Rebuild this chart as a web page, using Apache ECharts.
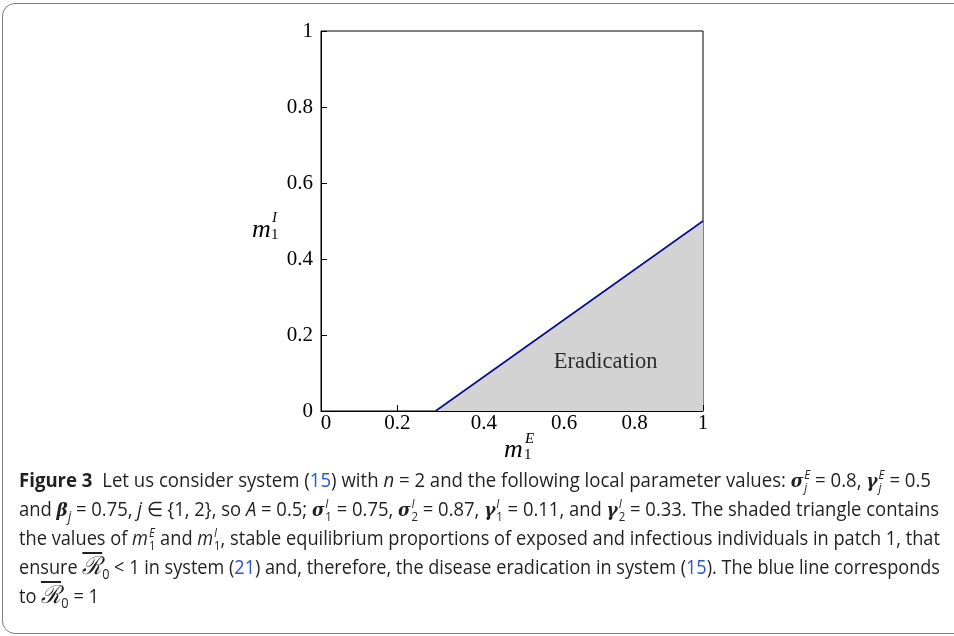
<!DOCTYPE html>
<html>
<head>
<meta charset="utf-8">
<script src="https://cdn.jsdelivr.net/npm/echarts@6/dist/echarts.min.js"></script>
<style>
  html, body { margin: 0; padding: 0; width: 954px; height: 636px; overflow: hidden; background: #fff; }
  #frame { position: absolute; left: 2px; top: 3px; width: 990px; height: 631px; border: 1.5px solid #7d7d7d; border-radius: 13px; box-sizing: border-box; }
  #chart { position: absolute; left: 0; top: 0; width: 954px; height: 470px; }
  #caption { position: absolute; left: 19px; top: 465px; font-family: "Open Sans", sans-serif; font-size: 20px; color: #231f20; }
  .ln { white-space: nowrap; width: max-content; height: 29px; line-height: 29px; transform-origin: 0 50%; }
  .ln a { color: #2b55c9; text-decoration: none; }
  .ss { display: inline-flex; flex-direction: column; font-size: 0.62em; line-height: 1; vertical-align: 0.62em; margin-left: 1px; }
  .bi { font-weight: bold; font-style: italic; font-family: "DejaVu Serif", serif; font-size: 0.92em; }
  .rb { font-family: "DejaVu Serif", serif; font-style: italic; font-size: 1.25em; border-top: 2px solid #231f20; line-height: 0.9; display: inline-block; padding-top: 1px; }
  sub { font-size: 0.7em; line-height: 0; }
</style>
</head>
<body>
<div id="frame"></div>
<div id="chart"></div>
<div id="caption">
  <div class="ln" data-w="912"><b>Figure 3</b>&nbsp; Let us consider system (<a>15</a>) with <i>n</i> = 2 and the following local parameter values: <span class="bi">σ</span><span class="ss"><i>E</i><i>j</i></span> = 0.8, <span class="bi">γ</span><span class="ss"><i>E</i><i>j</i></span> = 0.5</div>
  <div class="ln" data-w="920">and <span class="bi">β</span><sub><i>j</i></sub> = 0.75, <i>j</i> ∈ {1, 2}, so <i>A</i> = 0.5; <span class="bi">σ</span><span class="ss"><i>I</i><span>1</span></span> = 0.75, <span class="bi">σ</span><span class="ss"><i>I</i><span>2</span></span> = 0.87, <span class="bi">γ</span><span class="ss"><i>I</i><span>1</span></span> = 0.11, and <span class="bi">γ</span><span class="ss"><i>I</i><span>2</span></span> = 0.33. The shaded triangle contains</div>
  <div class="ln" data-w="921">the values of <i>m</i><span class="ss"><i>E</i><span>1</span></span> and <i>m</i><span class="ss"><i>I</i><span>1</span></span>, stable equilibrium proportions of exposed and infectious individuals in patch 1, that</div>
  <div class="ln" data-w="921">ensure <span class="rb">ℛ</span><sub>0</sub> &lt; 1 in system (<a>21</a>) and, therefore, the disease eradication in system (<a>15</a>). The blue line corresponds</div>
  <div class="ln" data-w="80">to <span class="rb">ℛ</span><sub>0</sub> = 1</div>
</div>
<script>
// axis range and ticks
const axisMin = 0;
const axisMax = 1;
const tickStep = 0.2;

// boundary R0 = 1 (blue line), region below it is shaded
const boundaryLine = [[0.3, 0], [1, 0.5]];

// region label
const regionLabel = [[0.745, 0.13]];
const regionText = 'Eradication';

const serif = '"Liberation Serif", "Times New Roman", serif';

// the x tick labels in the figure sit a little off their ticks
const xLabelShift = { '0': 5, '0.2': 0, '0.4': 10, '0.6': 14, '0.8': 8, '1': 0 };

const chart = echarts.init(document.getElementById('chart'));

// per-label padding moves each x tick label sideways (padding of 2d shifts the centre by d)
const rich = {};
Object.keys(xLabelShift).forEach((k, i) => {
  rich['p' + i] = { padding: [0, 0, 0, 2 * xLabelShift[k]], fontFamily: serif, fontSize: 21, color: '#000' };
});

const option = {
  animation: false,
  grid: {
    left: 321, right: 251, top: 31, bottom: 59,
    show: true, borderColor: '#000', borderWidth: 1, backgroundColor: '#fff'
  },
  xAxis: {
    type: 'value', min: axisMin, max: axisMax, interval: tickStep,
    splitLine: { show: false },
    axisLine: { show: true, lineStyle: { color: '#000', width: 1 } },
    axisTick: { show: true, inside: true, length: 6, lineStyle: { color: '#000' } },
    axisLabel: {
      color: '#000', fontFamily: serif, fontSize: 21, margin: 2,
      formatter: v => {
        const s = String(+v.toFixed(2));
        const i = Object.keys(xLabelShift).indexOf(s);
        return i >= 0 ? '{p' + i + '|' + s + '}' : s;
      },
      rich: rich
    }
  },
  yAxis: {
    type: 'value', min: axisMin, max: axisMax, interval: tickStep,
    splitLine: { show: false },
    axisLine: { show: true, lineStyle: { color: '#000', width: 1 } },
    axisTick: { show: true, inside: true, length: 6, lineStyle: { color: '#000' } },
    axisLabel: { color: '#000', fontFamily: serif, fontSize: 21, margin: 8 }
  },
  series: [
    {
      type: 'line',
      data: boundaryLine,
      symbol: 'none',
      lineStyle: { color: '#0b0b8a', width: 1.6 },
      areaStyle: { color: '#d3d3d3', opacity: 1, origin: 'start' },
      z: 3
    },
    {
      type: 'scatter',
      data: regionLabel,
      symbolSize: 0,
      label: { show: true, position: 'inside', formatter: regionText, color: '#000', fontFamily: serif, fontSize: 22.5 },
      z: 4
    }
  ],
  graphic: [
    {
      type: 'group', left: 252, top: 211,
      children: [
        { type: 'text', x: 0, y: 6, style: { text: 'm', fontFamily: serif, fontStyle: 'italic', fontSize: 26, fill: '#000' } },
        { type: 'text', x: 20, y: 0, style: { text: 'I', fontFamily: serif, fontStyle: 'italic', fontSize: 15, fill: '#000' } },
        { type: 'text', x: 19, y: 17, style: { text: '1', fontFamily: serif, fontSize: 15, fill: '#000' } }
      ]
    },
    {
      type: 'group', left: 504, top: 432,
      children: [
        { type: 'text', x: 0, y: 5, style: { text: 'm', fontFamily: serif, fontStyle: 'italic', fontSize: 26, fill: '#000' } },
        { type: 'text', x: 21, y: 0, style: { text: 'E', fontFamily: serif, fontStyle: 'italic', fontSize: 15, fill: '#000' } },
        { type: 'text', x: 20, y: 16, style: { text: '1', fontFamily: serif, fontSize: 15, fill: '#000' } }
      ]
    }
  ]
};

chart.setOption(option);

// squeeze caption lines to the width they take in the figure
function fitLines() {
  document.querySelectorAll('#caption .ln').forEach(el => {
    el.style.transform = 'none';
    const w = el.getBoundingClientRect().width;
    const target = parseFloat(el.dataset.w);
    if (w > 0) el.style.transform = 'scaleX(' + (target / w) + ')';
  });
}
fitLines();
if (document.fonts && document.fonts.ready) document.fonts.ready.then(fitLines);
</script>
</body>
</html>
